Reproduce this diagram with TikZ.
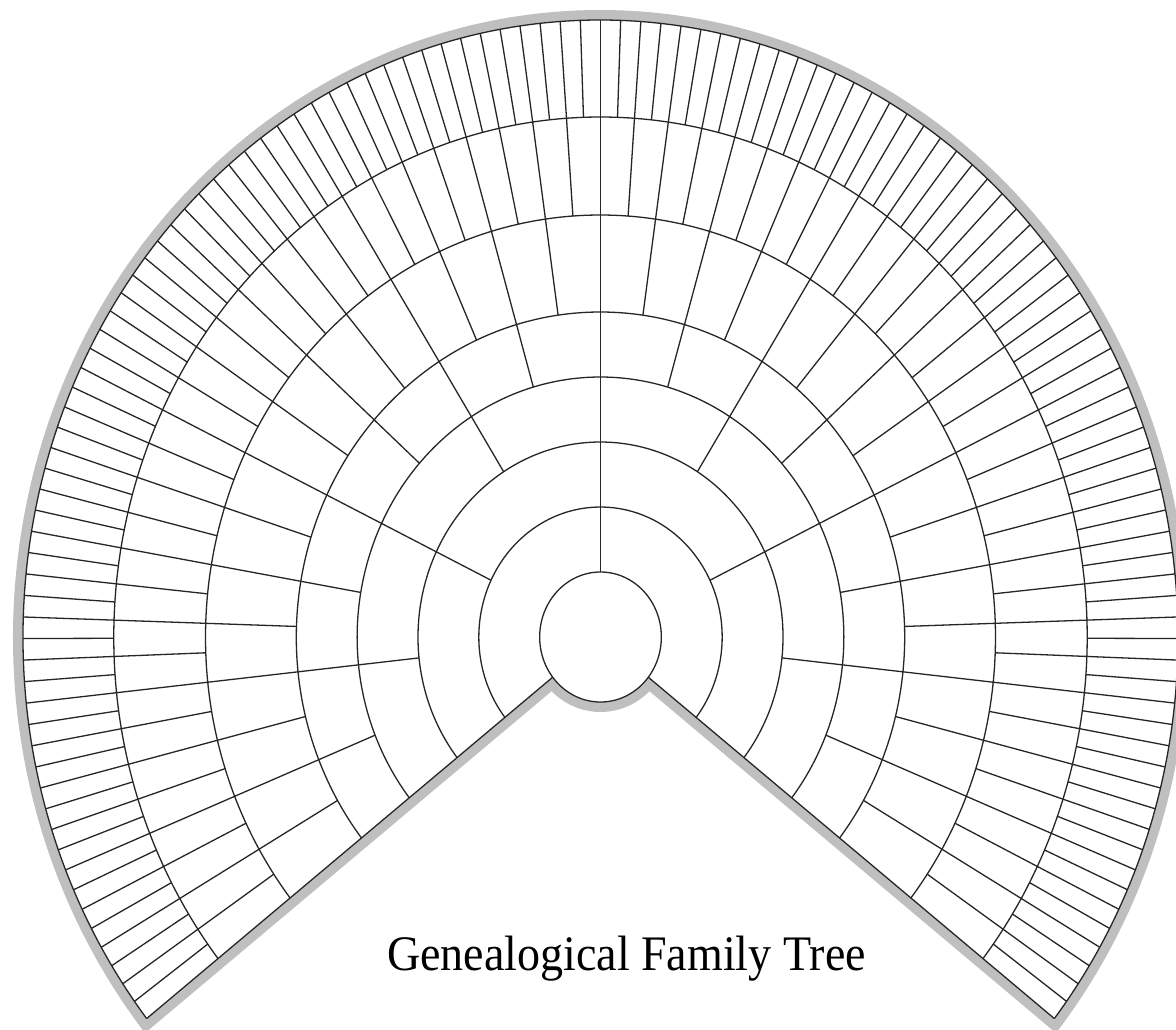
\documentclass[tikz,border=0pt]{standalone}
\usepackage{fontspec}
\setmainfont{Liberation Serif}
\tikzset{
  fanline/.style={draw=black!85, line width=0.65pt},
  fanborder/.style={draw=black!25, line width=10pt, line join=miter},
}
\def\aL{218.2}
\def\aR{-38.2}
\def\fanspan{256.4}
\begin{document}
\begin{tikzpicture}[x=0.5pt,y=-0.5pt]
\useasboundingbox (0,0) rectangle (1176,1029);
\begin{scope}[shift={(600.5,637)},x=0.468pt,y=0.5pt]
  % grey border
  \draw[fanborder] (\aL:65) -- (\aL:617) arc[start angle=\aL, end angle=\aR, radius=617]
     -- (\aR:65) arc[start angle=\aR, end angle=-141.8, radius=65] -- cycle;
  \fill[white] (\aL:65) -- (\aL:617) arc[start angle=\aL, end angle=\aR, radius=617]
     -- (\aR:65) arc[start angle=\aR, end angle=-141.8, radius=65] -- cycle;
  % rings and divisions
  \foreach \k/\ri/\ro in {1/65/130, 2/130/195, 3/195/260, 4/260/325, 5/325/422, 6/422/520, 7/520/617} {
    \pgfmathtruncatemacro\n{2^\k}
    \pgfmathtruncatemacro\m{\n-1}
    \pgfmathsetmacro\st{\fanspan/\n}
    \foreach \j in {1,...,\m} {
      \pgfmathsetmacro\a{\aL-\st*\j}
      \draw[fanline] (\a:\ri) -- (\a:\ro);
    }
    \draw[fanline] (\aL:\ro) arc[start angle=\aL, end angle=\aR, radius=\ro];
  }
  \draw[fanline] (0,0) circle[radius=65];
  \draw[fanline] (\aL:65) -- (\aL:617);
  \draw[fanline] (\aR:65) -- (\aR:617);
\end{scope}
\node[anchor=base, inner sep=0pt, yscale=1.08, font=\fontsize{23}{28}\selectfont] (title) at (626.5,970) {Genealogical Family Tree};
\end{tikzpicture}
\end{document}
